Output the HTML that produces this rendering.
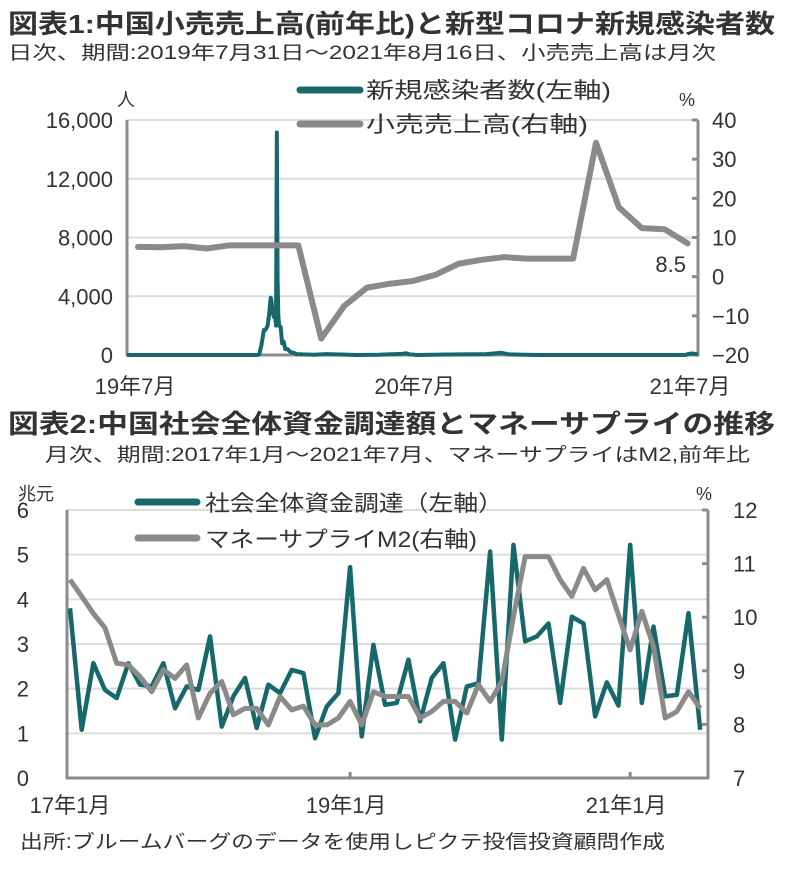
<!DOCTYPE html>
<html><head><meta charset="utf-8"><style>
html,body{margin:0;padding:0;background:#fff;}
svg{display:block;font-family:"Liberation Sans","Noto Sans CJK JP",sans-serif;}
</style></head><body>
<svg id="svg" width="785" height="878" viewBox="0 0 785 878">
<g fill="#333">
<text x="8" y="33" font-size="26" font-weight="bold" textLength="767" lengthAdjust="spacingAndGlyphs">図表1:中国小売売上高(前年比)と新型コロナ新規感染者数</text>
<text x="8" y="59" font-size="19" textLength="708" lengthAdjust="spacingAndGlyphs">日次、期間:2019年7月31日～2021年8月16日、小売売上高は月次</text>
<text x="8" y="433" font-size="26" font-weight="bold" textLength="767" lengthAdjust="spacingAndGlyphs">図表2:中国社会全体資金調達額とマネーサプライの推移</text>
<text x="45" y="461" font-size="19" textLength="705" lengthAdjust="spacingAndGlyphs">月次、期間:2017年1月～2021年7月、マネーサプライはM2,前年比</text>
<text x="20" y="848" font-size="19" textLength="645" lengthAdjust="spacingAndGlyphs">出所:ブルームバーグのデータを使用しピクテ投信投資顧問作成</text>
</g>
<g id="c1"></g>
<g id="c2"></g>
</svg>
<script>
// Chart 1 data
const retailMonths = ["2019-07","2019-08","2019-09","2019-10","2019-11","2019-12","2020-01","2020-02","2020-03","2020-04","2020-05","2020-06","2020-07","2020-08","2020-09","2020-10","2020-11","2020-12","2021-01","2021-02","2021-03","2021-04","2021-05","2021-06","2021-07"];
const retailValues = [7.6,7.5,7.8,7.2,8.0,8.0,8.0,8.0,-15.8,-7.5,-2.8,-1.8,-1.1,0.5,3.3,4.3,5.0,4.6,4.6,4.6,34.2,17.7,12.4,12.1,8.5];
const caseDays = [0,170,173,176,179,181,184,186,188,189,190,192,194,195,196,197,198,199,201,203,205,207,210,214,218,222,230,245,260,280,300,330,360,365,370,380,420,470,490,500,520,540,560,730,735,740,747];
const caseValues = [0,0,50,700,1700,1700,2000,2800,3900,3700,3100,2600,2500,2000,15152,5090,2600,2000,1900,800,900,400,400,200,150,60,40,20,60,30,0,20,80,120,40,0,30,60,150,40,20,0,0,0,80,100,40];
const leftTicks1 = [0,4000,8000,12000,16000];
const leftTickLabels1 = ["0","4,000","8,000","12,000","16,000"];
const rightTicks1 = [40,30,20,10,0,-10,-20];
const xLabels1 = ["19年7月","20年7月","21年7月"];
const xLabelDays1 = [0,366,731];

// Chart 2 data
const tsfValues = [3.80,1.08,2.57,1.97,1.79,2.57,2.09,2.05,2.57,1.56,2.05,1.97,3.17,1.15,1.83,2.24,1.12,2.09,1.90,2.42,2.35,0.89,1.60,1.90,4.72,0.93,2.98,1.64,1.68,2.65,1.27,2.24,2.57,0.86,2.05,2.12,5.07,0.86,5.22,3.06,3.17,3.46,1.68,3.61,3.46,1.38,2.14,1.62,5.22,1.68,3.39,1.83,1.86,3.69,1.08];
const m2Values = [10.70,10.39,10.07,9.80,9.14,9.11,8.89,8.61,9.02,8.86,9.11,8.12,8.58,8.80,8.18,8.30,8.30,7.99,8.52,8.27,8.34,7.99,7.99,8.12,8.43,7.99,8.61,8.52,8.52,8.52,8.12,8.24,8.43,8.43,8.21,8.74,8.43,8.80,10.01,11.13,11.13,11.13,10.70,10.39,10.91,10.51,10.70,10.04,9.39,10.11,9.45,8.12,8.24,8.61,8.30];
const leftTicks2 = [0,1,2,3,4,5,6];
const rightTicks2 = [7,8,9,10,11,12];
const xLabels2 = ["17年1月","19年1月","21年1月"];
const xLabelMonths2 = [0,24,48];

const NS="http://www.w3.org/2000/svg";
function mk(parent,tag,attrs,text){const e=document.createElementNS(NS,tag);for(const k in attrs)e.setAttribute(k,attrs[k]);if(text!==undefined)e.textContent=text;parent.appendChild(e);return e;}
const TEAL="#17686b", GRAY="#8a8a8a", AX="#8c8c8c", GRID="#dcdcdc", TXT="#333";

// ---------- Chart 1 ----------
const c1=document.getElementById('c1');
const L1=127,R1=698,T1=120,B1=355;
const xDay=d=>L1+d*(R1-L1)/747;
const yL1=v=>B1-(v/16000)*(B1-T1);
const yR1=v=>B1-((v+20)/60)*(B1-T1);
const xMonth1=i=>138+i*22.9;
leftTicks1.forEach((t,i)=>{
  if(t>0){const g=mk(c1,'line',{x1:L1,x2:R1,y1:yL1(t),y2:yL1(t),stroke:GRID,'stroke-width':2});
  
  }
  const lb=mk(c1,'text',{x:113,y:yL1(t)+8,'font-size':22,'text-anchor':'end',fill:TXT},leftTickLabels1[i]);
  
  
});
rightTicks1.forEach(t=>{
  const tk=mk(c1,'line',{x1:R1-6,x2:R1,y1:yR1(t),y2:yR1(t),stroke:AX,'stroke-width':3});
  
  
  const lb=mk(c1,'text',{x:712,y:yR1(t)+8,'font-size':22,fill:TXT},t<0?'−'+(-t):String(t));
  
  
});
let a=mk(c1,'path',{d:`M${L1},${T1}V${B1}H${R1}V${T1}`,fill:'none',stroke:AX,'stroke-width':3});


xLabels1.forEach((s,i)=>{
  const lb=mk(c1,'text',{x:Math.min(xDay(xLabelDays1[i])+8,690),y:394,'font-size':22,'text-anchor':'middle',fill:TXT},s);
  
  
});
let u=mk(c1,'text',{x:117,y:106,'font-size':18,fill:TXT},'人');


u=mk(c1,'text',{x:679,y:106,'font-size':18,fill:TXT},'%');


let p=mk(c1,'polyline',{points:caseDays.map((d,i)=>xDay(d)+','+yL1(caseValues[i])).join(' '),fill:'none',stroke:TEAL,'stroke-width':4,'stroke-linejoin':'round'});


p=mk(c1,'polyline',{points:retailValues.map((v,i)=>xMonth1(i)+','+yR1(v)).join(' '),fill:'none',stroke:GRAY,'stroke-width':6,'stroke-linejoin':'round','stroke-linecap':'round'});


u=mk(c1,'text',{x:686,y:272,'font-size':22,'text-anchor':'end',fill:TXT},String(retailValues[retailValues.length-1]));


// legend 1
[[TEAL,'新規感染者数(左軸)',90],[GRAY,'小売売上高(右軸)',124]].forEach((e,i)=>{
  const g=mk(c1,'g',{});
  
  
  mk(g,'line',{x1:300,x2:360,y1:e[2],y2:e[2],stroke:e[0],'stroke-width':7,'stroke-linecap':'round'});
  mk(g,'text',{x:366,y:e[2]+8,'font-size':22,fill:TXT,textLength:i==0?245:222,lengthAdjust:'spacingAndGlyphs'},e[1]);
});

// ---------- Chart 2 ----------
const c2=document.getElementById('c2');
const L2=67,R2=708,T2=510,B2=778;
const xM=i=>L2+3+i*11.67;
const yL2=v=>B2-(v/6)*(B2-T2);
const yR2=v=>B2-((v-7)/5)*(B2-T2);
leftTicks2.forEach(t=>{
  if(t>0){const g=mk(c2,'line',{x1:L2,x2:R2,y1:yL2(t),y2:yL2(t),stroke:GRID,'stroke-width':2});
  
  }
  const lb=mk(c2,'text',{x:29,y:yL2(t)+8,'font-size':22,'text-anchor':'end',fill:TXT},String(t));
  
  
});
rightTicks2.forEach(t=>{
  const tk=mk(c2,'line',{x1:R2-6,x2:R2,y1:yR2(t),y2:yR2(t),stroke:AX,'stroke-width':3});
  
  
  const lb=mk(c2,'text',{x:733,y:yR2(t)+8,'font-size':22,fill:TXT},String(t));
  
  
});
a=mk(c2,'path',{d:`M${L2},${T2}V${B2}H${R2}V${T2}`,fill:'none',stroke:AX,'stroke-width':3});


xLabelMonths2.forEach((m,i)=>{
  if(m>0){const tk=mk(c2,'line',{x1:xM(m),x2:xM(m),y1:B2,y2:B2-6,stroke:AX,'stroke-width':3});
  
  }
  const lb=mk(c2,'text',{x:xM(m)-4+(i==0?4:0),y:813,'font-size':22,'text-anchor':'middle',fill:TXT},xLabels2[i]);
  
  
});
u=mk(c2,'text',{x:18,y:500,'font-size':18,fill:TXT},'兆元');


u=mk(c2,'text',{x:696,y:500,'font-size':18,fill:TXT},'%');


p=mk(c2,'polyline',{points:tsfValues.map((v,i)=>xM(i)+','+yL2(v)).join(' '),fill:'none',stroke:TEAL,'stroke-width':4.5,'stroke-linejoin':'round'});


p=mk(c2,'polyline',{points:m2Values.map((v,i)=>xM(i)+','+yR2(v)).join(' '),fill:'none',stroke:GRAY,'stroke-width':5,'stroke-linejoin':'round'});


[[TEAL,'社会全体資金調達（左軸）',502],[GRAY,'マネーサプライM2(右軸)',538]].forEach((e,i)=>{
  const g=mk(c2,'g',{});
  
  
  mk(g,'line',{x1:138,x2:197,y1:e[2],y2:e[2],stroke:e[0],'stroke-width':7,'stroke-linecap':'round'});
  mk(g,'text',{x:205,y:e[2]+9,'font-size':22,fill:TXT,textLength:i==0?298:272,lengthAdjust:'spacingAndGlyphs'},e[1]);
});
</script>
</body></html>
